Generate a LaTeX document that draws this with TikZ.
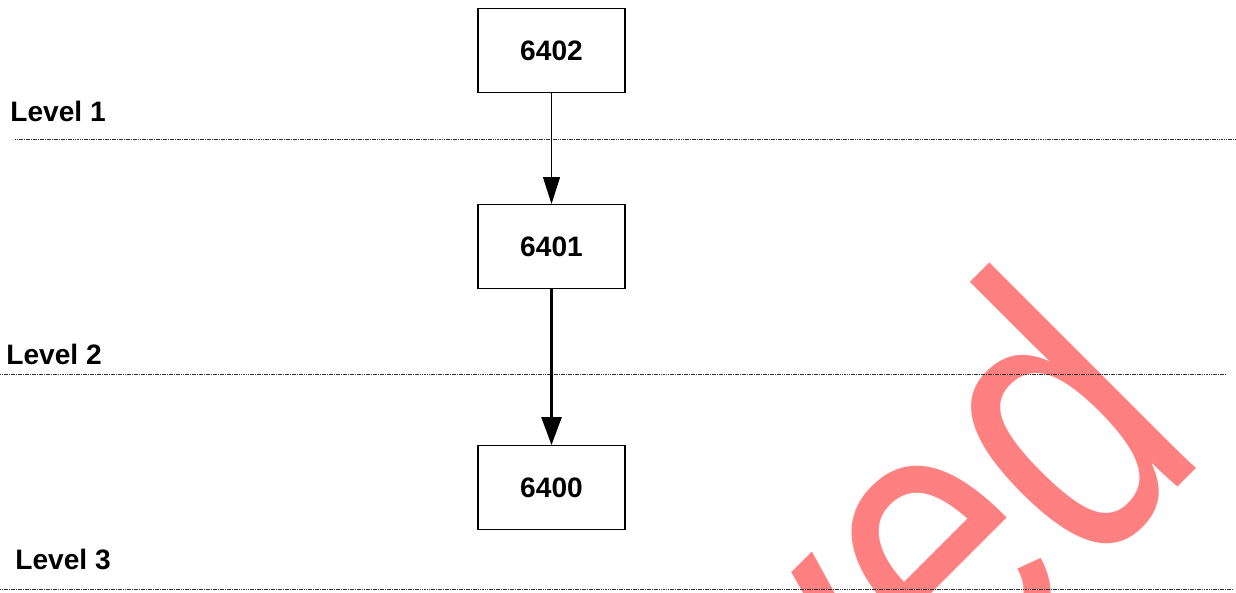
\documentclass[tikz,border=0pt]{standalone}
\usepackage{fontspec}
\setmainfont{Liberation Sans}
\usepackage{tikz}
\usetikzlibrary{positioning,arrows.meta}
\definecolor{stampred}{RGB}{255,128,128}

\begin{document}
\begin{tikzpicture}[auto, node distance=2cm,
    box/.style={draw, line width=0.6pt, minimum width=2.94cm, minimum height=1.68cm, inner sep=0pt, font=\fontsize{16}{19}\selectfont\bfseries},
    lvl/.style={anchor=base west, inner sep=0pt, font=\fontsize{16}{19}\selectfont\bfseries},
    sep/.style={black!80, line width=0.5pt, dash pattern=on 0.7pt off 0.3pt}]
    \useasboundingbox (0,0) rectangle (24.72,11.84);

    % Watermark (cut off by the page)
    \begin{scope}
        \clip (0,0) rectangle (24.72,11.84);
        \node[rotate=45, anchor=base east, inner sep=0pt, text=stampred, font=\fontsize{229}{229}\selectfont] (stamp) at (24.22,2.76) {\scalebox{0.78}[1]{ved}};
    \end{scope}

    % Level separators
    \draw[sep] (0.30,9.06) -- (24.72,9.06);
    \draw[sep] (0,4.36) -- (24.52,4.36);
    \draw[sep] (0,0.06) -- (24.64,0.06);
    \node[lvl] (lv1) at (0.20,9.40) {Level 1};
    \node[lvl] (lv2) at (0.12,4.54) {Level 2};
    \node[lvl] (lv3) at (0.30,0.44) {Level 3};

    % Programs
    \node[box] (p6402) at (11.03,10.83) {6402};
    \node[box, below=2.22cm of p6402] (p6401) {6401};
    \node[box, below=3.12cm of p6401] (p6400) {6400};

    \draw[line width=0.55pt, -{Triangle[length=0.54cm, width=0.34cm]}] (p6402) -- (p6401);
    \draw[line width=1.5pt, -{Triangle[length=0.56cm, width=0.40cm]}] (p6401) -- (p6400);
\end{tikzpicture}
\end{document}
